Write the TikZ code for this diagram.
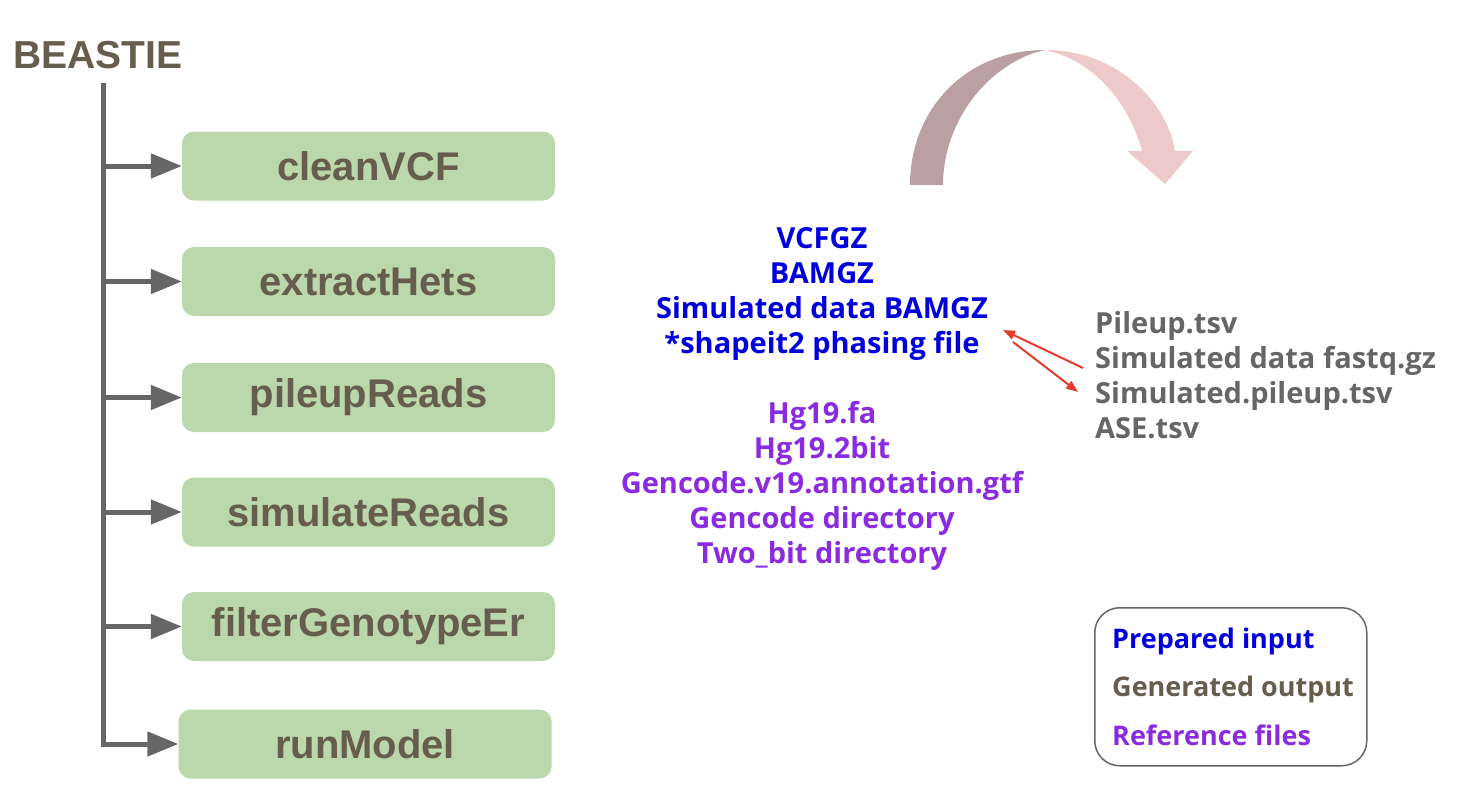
\documentclass[tikz,border=0pt]{standalone}
\usepackage{fontspec}
\setmainfont{Open Sans}
\newfontfamily\helv{Liberation Sans}
\usetikzlibrary{arrows.meta}
\definecolor{boxgreen}{HTML}{BBD7AC}
\definecolor{txtbrown}{HTML}{665D4E}
\definecolor{linegray}{HTML}{666666}
\definecolor{inblue}{HTML}{0000DD}
\definecolor{refpurple}{HTML}{8A2BE2}
\definecolor{outgray}{HTML}{666666}
\definecolor{redarrow}{HTML}{E53A2C}
\definecolor{arcdark}{HTML}{BA9FA3}
\definecolor{arclight}{HTML}{EEC9C9}
\begin{document}
\begin{tikzpicture}[x=1pt,y=-1pt,
  stepbox/.style={fill=boxgreen, rounded corners=12pt, minimum width=373pt, minimum height=69pt, inner sep=0pt,
    font=\helv\bfseries\fontsize{40}{44}\selectfont, text=txtbrown},
  branch/.style={draw=linegray, line width=5pt, line join=miter, -{Triangle[length=31pt,width=24pt]}},
  inline/.style={anchor=base, text=inblue, font=\bfseries\fontsize{29}{35}\selectfont, inner sep=0pt},
  refline/.style={anchor=base, text=refpurple, font=\bfseries\fontsize{29}{35}\selectfont, inner sep=0pt},
  outline/.style={anchor=base west, text=outgray, font=\bfseries\fontsize{29}{35}\selectfont, inner sep=0pt},
  legtext/.style={anchor=base west, font=\bfseries\fontsize{27}{30}\selectfont, inner sep=0pt},
  redarr/.style={draw=redarrow, line width=2pt, -{Triangle[length=12pt,width=9pt]}},
]
\useasboundingbox (0,0) rectangle (1464,806);

% title
\node[anchor=base west, inner sep=0pt, text=txtbrown, font=\helv\bfseries\fontsize{39}{44}\selectfont] (title) at (13,68) {BEASTIE};

% step boxes
\node[stepbox] (b1) at (368.5,166) {cleanVCF};
\node[stepbox] (b2) at (368.5,281.5) {extractHets};
\node[stepbox] (b3) at (368.5,397.5) {pileupReads};
\node[stepbox] (b4) at (368.5,512) {simulateReads};
\node[stepbox] (b5) at (368.5,626.5) {filterGenotypeEr};
\node[stepbox] (b6) at (365,744) {runModel};

% spine and branches
\coordinate (top) at (103,83);
\draw[branch] (top) -- (top |- b6.west) -- (b6.west);
\foreach \b in {b1,b2,b3,b4,b5}{
  \draw[branch] (top |- \b.west) -- (\b.west);
}

% prepared inputs
\node[inline] (i1) at (822,248) {VCFGZ};
\node[inline] (i2) at (822,283) {BAMGZ};
\node[inline] (i3) at (822,318) {Simulated data BAMGZ};
\node[inline] (i4) at (822,353) {*shapeit2 phasing file};

% reference files
\node[refline] (r1) at (822,423) {Hg19.fa};
\node[refline] (r2) at (822,458) {Hg19.2bit};
\node[refline] (r3) at (822,493) {Gencode.v19.annotation.gtf};
\node[refline] (r4) at (822,528) {Gencode directory};
\node[refline] (r5) at (822,563) {Two\_bit directory};

% generated outputs
\node[outline] (o1) at (1095,333) {Pileup.tsv};
\node[outline] (o2) at (1095,368) {Simulated data fastq.gz};
\node[outline] (o3) at (1095,403) {Simulated.pileup.tsv};
\node[outline] (o4) at (1095,438) {ASE.tsv};

% red arrows
\coordinate (ra1s) at (1083,368);
\coordinate (ra1e) at (1003,330);
\coordinate (ra2s) at (1013,342);
\coordinate (ra2e) at (1078,392);
\draw[redarr] (ra1s) -- (ra1e);
\draw[redarr] (ra2s) -- (ra2e);

% curved arrow
\fill[arcdark] (910,185) .. controls (910,110) and (965,50) .. (1045,50)
  .. controls (990,62) and (943,120) .. (943,185) -- cycle;
\fill[arclight] (1045,50) .. controls (1120,50) and (1168,105) .. (1175,151)
  -- (1193,151) -- (1165,184) -- (1127,151) -- (1142,151)
  .. controls (1128,100) and (1092,60) .. (1045,50) -- cycle;

% legend
\node[draw=linegray, line width=1.5pt, rounded corners=25pt, minimum width=272pt, minimum height=158pt,
  anchor=north west, inner sep=0pt] (legend) at (1094,607) {};
\node[legtext, text=inblue] (l1) at (1112,648) {Prepared input};
\node[legtext, text=txtbrown] (l2) at (1112,696) {Generated output};
\node[legtext, text=refpurple] (l3) at (1112,745) {Reference files};
\end{tikzpicture}
\end{document}
